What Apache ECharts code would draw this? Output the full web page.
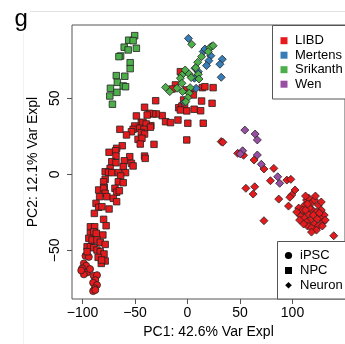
<!DOCTYPE html>
<html>
<head>
<meta charset="utf-8">
<script src="https://cdn.jsdelivr.net/npm/echarts@6/dist/echarts.min.js"></script>
<style>
html,body{margin:0;padding:0;background:#fff;}
#chart{width:345px;height:344px;}
</style>
</head>
<body>
<div id="chart"></div>
<script>
// ---- data (PC1, PC2) ----
var xTicks = [-100, -50, 0, 50, 100];
var yTicks = [-50, 0, 50];
var groups = ['LIBD', 'Mertens', 'Srikanth', 'Wen'];
var stages = ['iPSC', 'NPC', 'Neuron'];

var libdNpc = [
[-6.8,67.5],[-11.5,58.8],[-14.7,56.1],[-1.2,55.5],[2.5,53.3],[5.6,52.2],[14.1,57.0],[16.6,57.6],[24.4,57.0],
[13.4,48.2],[23.4,46.7],[-3.7,48.9],[-8.4,43.8],[-5.3,44.9],[-2.8,45.6],[-6.8,42.3],[-0.7,41.7],[6.3,42.8],
[12.5,41.8],[-9.1,35.7],[0.3,33.6],[15,33.6],[-24.1,38.6],[-20.9,34.6],[-16.2,34.0],[-30.3,48.4],[-0.7,22.6],
[-31.9,19.7],[-34.9,32.0],[-29.7,39.7],[-33.1,39.7],[-36.3,40.1],[-38.4,39.0],[-40.9,44.1],[-48.7,38.4],
[-44.0,34.0],[-42.4,34.2],[-39.4,33.1],[-35.3,31.0],[-50.3,31.8],[-51.8,29.6],[-53.4,28.0],[-45.6,30.3],
[-41.5,29.6],[-64.4,29.6],[-58.1,25.9],[-44.0,27.4],[-40.9,26.5],[-47.1,23.0],[-43.4,23.7],[-45.0,19.9],
[-62.1,18.8],[-67.5,17.1],[-68.4,15.5],[-74.7,14.5],[-68.1,12.0],[-55.0,11.6],[-40.9,12.0],[-40.3,10.5],
[-72.1,8.3],[-68.1,7.6],[-60.2,8.9],[-53.4,7.2],[-51.8,5.5],[-61.2,5.0],[-73.7,3.9],[-78.4,1.7],[-75.2,1.3],
[-72.1,1.1],[-65.9,1.1],[-59.0,1.1],[-63.7,-1.1],[-78.4,-3.3],[-79.9,-4.9],[-65.9,-4.9],[-61.2,-5.5],
[-79.3,-8.6],[-69.1,-9.2],[-84.6,-10.3],[-79.9,-9.2],[-78.4,-12.5],[-83.7,-14.7],[-76.8,-14.7],[-67.5,-11.8],
[-64.9,-10.8],[-70.6,-15.8],[-67.5,-18.0],[-87.1,-19.1],[-84.6,-21.7],[-81.5,-21.3],[-74.7,-22.8],[-88.7,-25.7],
[-79.9,-29.6],[-92.5,-34.5],[-88.4,-34.5],[-77.5,-33.8],[-92.5,-38.8],[-89.3,-37.8],[-86.9,-38.8],[-80.6,-39.9],
[-94.0,-42.1],[-90.9,-43.2],[-86.2,-43.2],[-83.1,-44.7],[-78.4,-46.1],[-95.6,-47.6],[-92.5,-47.6],[-89.3,-48.3],
[-86.2,-49.8],[-83.1,-50.9],[-95.6,-50.9],[-78.4,-57.0],[-82.1,-58.6],[-79.5,-52.4],[-85.1,-54.6],[-81.8,-56.4]
];
var libdNeuron = [
[32.1,21.5],[33.7,21.1],[47.8,13.8],[53.4,12.5],[63.4,9.4],[72.8,3.5],[82.2,3.9],[79.0,-4.2],[94.6,-3.8],
[98.4,-3.3],[102.4,-10.3],[99.3,-13.6],[55.6,-9.2],[64.0,-8.2],[62.5,-13.0],[86.9,-16.3],[96.2,-20.9],
[72.8,-30.5],[139.3,-40.4],[97.5,-15.1],
[105.9,-22.2],[108.7,-24.9],[111.5,-20.3],[113.4,-16.9],[115.3,-15.6],[118.1,-18.9],[120.9,-16.9],[124.6,-20.2],
[127.4,-23.5],[130.2,-26.8],[107.7,-27.4],[111.5,-28.8],[115.3,-26.1],[119.0,-23.5],[122.8,-24.8],[126.5,-28.8],
[129.3,-31.4],[117.1,-30.1],[120.9,-32.7],[124.6,-34.0],[113.4,-31.4],[109.6,-23.5],[116.2,-22.2],[119.9,-26.8],
[123.7,-29.4],[127.4,-18.2],[121.8,-14.3],[112.4,-14.3],[104.0,-24.8],[106.8,-30.1],[114.3,-34.0],[118.1,-35.3],
[122.8,-36.7],[128.4,-34.0],[131.2,-30.1],[118.1,-38.0],[112.4,-23.5],[125.6,-25.5],[114.3,-19.5],[110.6,-32.7]
];
var libdIpsc = [
[-98.7,-58.6],[-96.5,-60.1],[-100.3,-61.9],[-95.6,-64.5],[-98.7,-65.8],[-97.2,-53.6],[-94.0,-54.3],
[-92.8,-62.3],[-101.2,-63.2],[-89.3,-66.7],[-86.2,-66.3],[-87.8,-69.6],[-89.9,-71.3],[-86.2,-72.8],
[-88.4,-75.0],[-89.9,-76.8],[-87.8,-76.1]
];
var mertensNeuron = [
[0.9,89.4],[15.0,80.7],[16.6,82.4],[22.8,84.0],[22.2,78.0],[20.3,74.7],[18.1,71.5],[33.1,75.7],[30.9,72.4],
[32.1,63.8],[7.2,69.7],[10.3,67.5],[6.6,63.2],[8.7,64.2],[8.2,56.6],[-2.8,47.4]
];
var srikanthNpc = [
[-50.3,91.2],[-56,88.2],[-51.8,87.9],[-60.3,83.6],[-56.5,81.8],[-48.7,82.9],[-63.7,77.8],[-65.3,77.4],
[-54.6,73.4],[-54.6,69.5],[-67.8,64.9],[-59.7,64.5],[-66.8,60.5],[-61.2,58.1],[-59,57.6],[-73.4,56.6],
[-67.2,53.9],[-74,51.5],[-71.5,46.1]
];
var srikanthNeuron = [
[4.0,85.5],[21.3,83.3],[24.4,84.6],[19.7,80.7],[13.4,77.4],[9.7,73.7],[7.8,70.1],[-2.2,68.6],[-5.3,65.3],
[-6.8,63.2],[1.6,66.0],[3.5,63.6],[10.3,65.8],[11.0,62.7],[-5.3,59.9],[-20.9,57.2],[-16.9,54.4],[-10.0,56.6],
[-4.7,54.4],[2.5,57.0],[1.6,53.3],[0.3,50.4],[-1.6,47.8]
];
var wenNeuron = [
[54.6,29.1],[64.4,26.5],[66.5,22.6],[52.5,15.5],[50.3,13.4],[66.5,12.7],[70.3,6.6],[85.9,-1.6],[87.8,-5.9]
];

var colors = {LIBD:'#E41A1C', Mertens:'#377EB8', Srikanth:'#4DAF4A', Wen:'#984EA3'};
var shapes = {iPSC:'circle', NPC:'rect', Neuron:'diamond'};
var sizes = {iPSC:7, NPC:6.5, Neuron:8};

function mk(name, group, stage, data) {
  return {
    name: name, type: 'scatter', data: data, symbol: shapes[stage], symbolSize: sizes[stage],
    itemStyle: {color: colors[group], borderColor: '#222', borderWidth: 0.8, opacity: 1},
    emphasis: {disabled: true}, silent: true
  };
}

var font = 'Liberation Sans, Arial, sans-serif';

// legend graphics
var g = [];
g.push({type:'line', shape:{x1:30,y1:11.5,x2:345,y2:11.5}, style:{stroke:'#e2e2e2', lineWidth:1}, z:1});
g.push({type:'line', shape:{x1:23.5,y1:33,x2:23.5,y2:344}, style:{stroke:'#f2f2f2', lineWidth:1}, z:1});
g.push({type:'text', x:14.5, y:19, style:{text:'g', fontSize:24, fontFamily:font, fill:'#000', verticalAlign:'middle', align:'left'}, z:10});
g.push({type:'rect', shape:{x:272.5,y:25.5,width:90,height:73.5}, style:{fill:'#fff', stroke:'#555', lineWidth:1}, z:10});
var ly = [40.7, 55.2, 69.7, 84.2];
groups.forEach(function(name, i){
  g.push({type:'rect', shape:{x:280.5,y:ly[i]-3.5,width:7,height:7}, style:{fill:colors[name]}, z:11});
  g.push({type:'text', x:295, y:ly[i], style:{text:name, fontSize:13, fontFamily:font, fill:'#000', verticalAlign:'middle'}, z:11});
});
g.push({type:'rect', shape:{x:277.5,y:241.5,width:90,height:57.5}, style:{fill:'#fff', stroke:'#555', lineWidth:1}, z:10});
var sy = [255.5, 270.5, 285.2];
g.push({type:'circle', shape:{cx:288.5,cy:sy[0],r:3.6}, style:{fill:'#000'}, z:11});
g.push({type:'rect', shape:{x:285,y:sy[1]-3.5,width:7,height:7}, style:{fill:'#000'}, z:11});
g.push({type:'polygon', shape:{points:[[288.5,sy[2]-3.3],[291.8,sy[2]],[288.5,sy[2]+3.3],[285.2,sy[2]]]}, style:{fill:'#000'}, z:11});
stages.forEach(function(name, i){
  g.push({type:'text', x:300, y:sy[i], style:{text:name, fontSize:13, fontFamily:font, fill:'#000', verticalAlign:'middle'}, z:11});
});

var chart = echarts.init(document.getElementById('chart'), null, {renderer:'canvas'});
chart.setOption({
  animation: false,
  backgroundColor: '#fff',
  grid: {left:72, top:25, right:-4, bottom:45, show:true, borderColor:'#555', borderWidth:1, containLabel:false},
  xAxis: {
    type:'value', min:-110, max:150,
    name:'PC1: 42.6% Var Expl', nameLocation:'middle', nameGap:25,
    nameTextStyle:{fontSize:14, fontFamily:font, color:'#000'},
    axisLine:{show:false, onZero:false}, splitLine:{show:false},
    axisTick:{show:true, length:5, lineStyle:{color:'#555'}, customValues:xTicks},
    axisLabel:{fontSize:14, fontFamily:font, color:'#000', margin:7, customValues:xTicks,
      formatter:function(v){return v<0 ? '\u2212'+Math.abs(v) : String(v);}}
  },
  yAxis: {
    type:'value', min:-82, max:98.2,
    name:'PC2: 12.1% Var Expl', nameLocation:'middle', nameGap:31,
    nameTextStyle:{fontSize:14, fontFamily:font, color:'#000'},
    axisLine:{show:false, onZero:false}, splitLine:{show:false},
    axisTick:{show:true, length:5, lineStyle:{color:'#555'}, customValues:yTicks},
    axisLabel:{fontSize:14, fontFamily:font, color:'#000', margin:10, rotate:90, customValues:yTicks,
      formatter:function(v){return v<0 ? '\u2212'+Math.abs(v) : String(v);}}
  },
  series: [
    mk('LIBD iPSC','LIBD','iPSC',libdIpsc),
    mk('LIBD NPC','LIBD','NPC',libdNpc),
    mk('LIBD Neuron','LIBD','Neuron',libdNeuron),
    mk('Mertens Neuron','Mertens','Neuron',mertensNeuron),
    mk('Srikanth NPC','Srikanth','NPC',srikanthNpc),
    mk('Srikanth Neuron','Srikanth','Neuron',srikanthNeuron),
    mk('Wen Neuron','Wen','Neuron',wenNeuron)
  ],
  graphic: g
});
</script>
</body>
</html>
